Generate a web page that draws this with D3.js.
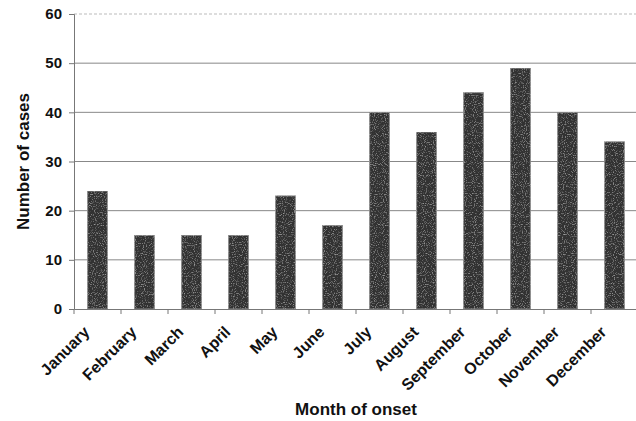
<!DOCTYPE html>
<html>
<head>
<meta charset="utf-8">
<script src="https://cdn.jsdelivr.net/npm/d3@7"></script>
<style>
body { margin: 0; background: #fff; }
text { font-family: "Liberation Sans", Arial, sans-serif; font-weight: bold; fill: #111; }
</style>
</head>
<body>
<svg id="chart" width="636" height="421"></svg>
<script>
var months = ["January", "February", "March", "April", "May", "June",
    "July", "August", "September", "October", "November", "December"]
var cases = [24, 15, 15, 15, 23, 17, 40, 36, 44, 49, 40, 34]
var yTicks = [0, 10, 20, 30, 40, 50, 60]

var svg = d3.select("#chart")
var mLeft = 74, mRight = 638, mTop = 14, mBottom = 309

var x = d3.scaleBand().domain(months).range([mLeft, mRight]).paddingInner(0.58).paddingOuter(0.29)
var y = d3.scaleLinear().domain([0, 60]).range([mBottom, mTop])

// noisy fill for the bars
var defs = svg.append("defs")
var f = defs.append("filter").attr("id", "grain").attr("x", 0).attr("y", 0).attr("width", 1).attr("height", 1)
f.append("feTurbulence").attr("type", "fractalNoise").attr("baseFrequency", 0.9).attr("numOctaves", 1).attr("result", "n")
f.append("feColorMatrix").attr("in", "n").attr("type", "matrix")
    .attr("values", "0 0 0 0 0.75  0 0 0 0 0.75  0 0 0 0 0.75  1.4 0 0 0 -0.75").attr("result", "dots")
f.append("feComposite").attr("in", "dots").attr("in2", "SourceGraphic").attr("operator", "atop")

// gridlines
svg.append("g")
    .selectAll("line")
    .data(yTicks.filter(function(d){ return d > 0 }))
    .enter()
    .append("line")
    .attr("x1", mLeft)
    .attr("x2", 636)
    .attr("y1", function(d){ return y(d) })
    .attr("y2", function(d){ return y(d) })
    .style("stroke", function(d){ return d == 60 ? "#bbb" : "#888" })
    .style("stroke-dasharray", function(d){ return d == 60 ? "3,2" : null })
    .style("stroke-width", 1)

// bars
svg.append("g")
    .selectAll(".bar")
    .data(cases)
    .enter()
    .append("rect")
    .attr("class", "bar")
    .attr("x", function(d, i){ return x(months[i]) })
    .attr("y", function(d){ return y(d) })
    .attr("width", x.bandwidth())
    .attr("height", function(d){ return mBottom - y(d) })
    .style("fill", "#333")
    .style("stroke", "#8a8a8a")
    .style("stroke-width", 1)
    .attr("filter", "url(#grain)")

// y axis
var yAxis = d3.axisLeft(y).tickValues(yTicks).tickSize(5).tickPadding(4)
var gy = svg.append("g")
    .attr("transform", "translate(" + mLeft + ",0)")
    .call(yAxis)
gy.select(".domain").style("stroke", "#777")
gy.selectAll(".tick line").style("stroke", "#777")
gy.selectAll("text").style("font-size", "15px").attr("x", -12)

// x axis
var xAxis = d3.axisBottom(x).tickSize(0).tickFormat("")
var gx = svg.append("g")
    .attr("transform", "translate(0," + mBottom + ")")
    .call(xAxis)
gx.select(".domain").style("stroke", "#777")
var step = x.step()
gx.selectAll(".sep")
    .data(months)
    .enter()
    .append("line")
    .attr("x1", function(d){ return x(d) + x.bandwidth() / 2 - step / 2 })
    .attr("x2", function(d){ return x(d) + x.bandwidth() / 2 - step / 2 })
    .attr("y1", 0)
    .attr("y2", 5)
    .style("stroke", "#777")

svg.append("g")
    .selectAll("text")
    .data(months)
    .enter()
    .append("text")
    .attr("text-anchor", "end")
    .attr("transform", function(d){
        var cx = x(d) + x.bandwidth() / 2 - 7
        return "translate(" + cx + "," + (mBottom + 24) + ") rotate(-45)"
    })
    .style("font-size", "16px")
    .text(function(d){ return d })

// axis titles
svg.append("text")
    .attr("transform", "translate(29," + ((mTop + mBottom) / 2) + ") rotate(-90)")
    .attr("text-anchor", "middle")
    .style("font-size", "17px")
    .text("Number of cases")

svg.append("text")
    .attr("x", 356)
    .attr("y", 415)
    .attr("text-anchor", "middle")
    .style("font-size", "17px")
    .text("Month of onset")
</script>
</body>
</html>
